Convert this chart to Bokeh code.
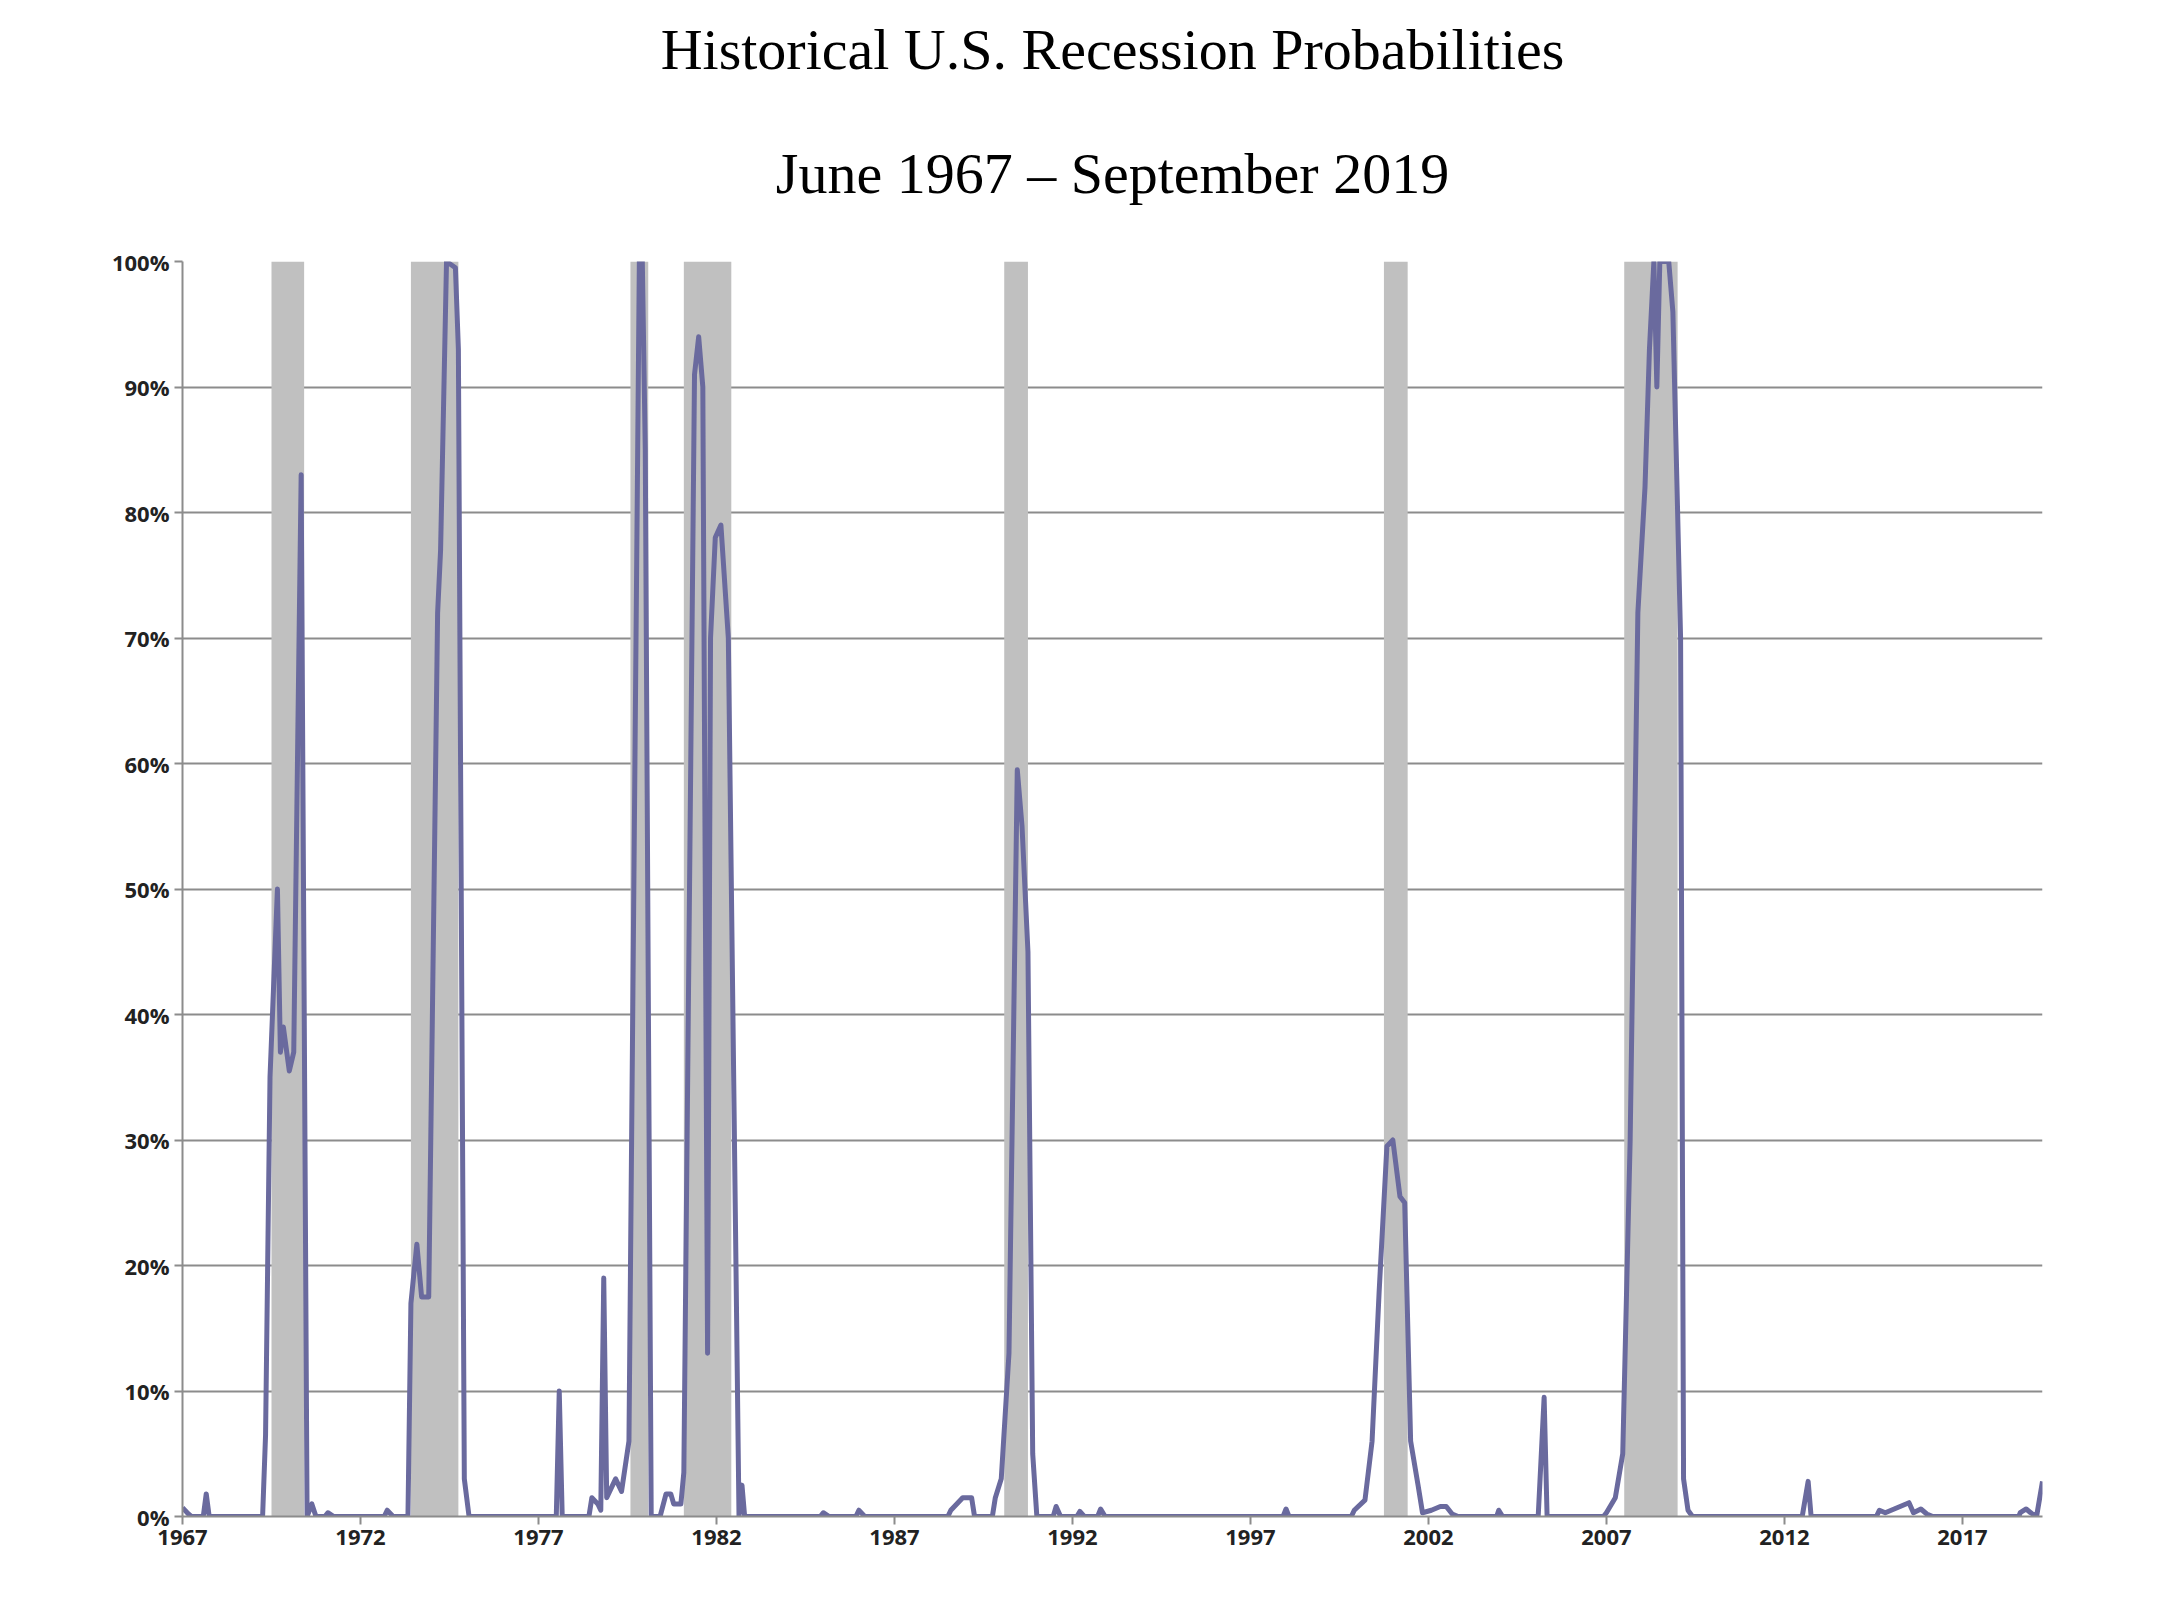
from bokeh.embed import file_html
from bokeh.resources import INLINE
from bokeh.models import Range1d, FixedTicker, Title, NumeralTickFormatter
from bokeh.plotting import figure

# months since June 1967
recession_start = [30, 77, 151, 169, 277, 405, 486]
recession_end = [41, 93, 157, 185, 285, 413, 504]

month = [0, 2, 3, 7, 8, 9,
         27, 28, 29.5, 32, 33, 34, 36, 37.5, 40, 42, 43.6, 45, 48, 49, 51,
         68, 69, 71, 76, 77, 79, 80.6, 83, 86, 87, 89, 92, 93, 95, 96.6,
         125, 126, 127, 128,
         137, 138, 140, 141, 142, 143, 146, 148, 150.5, 154, 155, 156, 158, 161, 163, 164.6, 165.6, 168, 169,
         172.6, 174, 175.4, 177, 178, 179.6, 181.5, 184, 187.6, 188.6, 189.5,
         215, 216, 218, 227, 228, 230,
         258, 259, 263, 266, 267, 273, 274, 276, 278.6, 281.4, 283, 285, 286.6, 288, 293.5, 294.5, 296,
         301.5, 302.5, 304, 308.5, 309.5, 311,
         371, 372, 373,
         394, 395, 398.6, 401, 403.4, 406, 408, 410.4, 412, 414, 416.5, 418, 421, 424, 426, 428, 430,
         443, 443.7, 445, 457, 459, 460,
         479, 480, 483, 485.5, 488, 490.6, 493, 494.5, 496, 497, 498, 501, 502.4, 505, 506, 507.5, 509,
         546, 548, 549,
         571, 572, 574, 576, 579, 582, 583.5, 586, 588, 590,
         619, 619.5, 621.5, 623, 625, 627]
prob = [0.7, 0.2, 0, 0, 1.8, 0,
        0, 6.5, 35, 50, 37, 39, 35.5, 37, 83, 0, 1, 0, 0, 0.3, 0,
        0, 0.5, 0, 0, 17, 21.7, 17.5, 17.5, 72, 77, 100, 99.5, 93, 3, 0,
        0, 0, 10, 0,
        0, 1.5, 1, 0.5, 19, 1.5, 3, 2, 6, 100, 100, 85, 0, 0, 1.8, 1.8, 1, 1, 3.5,
        91, 94, 90, 13, 70, 78, 79, 70, 0, 2.5, 0,
        0, 0.3, 0, 0, 0.5, 0,
        0, 0.5, 1.5, 1.5, 0, 0, 1.5, 3, 13, 59.5, 55, 45, 5, 0, 0, 0.8, 0,
        0, 0.4, 0, 0, 0.6, 0,
        0, 0.6, 0,
        0, 0.5, 1.3, 6, 18, 29.5, 30, 25.5, 25, 6, 2.5, 0.3, 0.5, 0.8, 0.8, 0.2, 0,
        0, 0.5, 0, 0, 9.5, 0,
        0, 0.3, 1.5, 5, 30, 72, 82, 93, 100, 90, 100, 100, 96, 70, 3, 0.5, 0,
        0, 2.8, 0,
        0, 0.5, 0.3, 0.5, 0.8, 1.1, 0.3, 0.6, 0.2, 0,
        0, 0.3, 0.6, 0.3, 0, 2.8]

year_ticks = list(range(0, 601, 60))
year_labels = [str(1967 + 5 * i) for i in range(len(year_ticks))]

p = figure(width=2160, height=1580, frame_width=1860, frame_height=1255,
           output_backend="svg", toolbar_location=None,
           x_range=Range1d(0, 627), y_range=Range1d(0, 100))
p.min_border_left = 182
p.min_border_bottom = 40
p.outline_line_color = None

title_style = dict(align="center", text_font="Liberation Serif", text_font_size="58px",
                   text_font_style="normal", text_color="black", offset=-45)
p.add_layout(Title(text="June 1967 \u2013 September 2019", standoff=112, **title_style), "above")
p.add_layout(Title(text="Historical U.S. Recession Probabilities", standoff=2, **title_style), "above")
p.add_layout(Title(text="\u00a0", text_font_size="4px", standoff=6), "above")

p.quad(left=recession_start, right=recession_end, bottom=0, top=100,
       fill_color="#c0c0c0", line_color=None)
p.line(month, prob, line_color="#6a6a9e", line_width=5, line_join="round")

p.xgrid.visible = False
p.ygrid.grid_line_color = "#8c8c8c"
p.ygrid.grid_line_width = 2
p.ygrid.level = "underlay"

p.xaxis.ticker = FixedTicker(ticks=year_ticks)
p.xaxis.major_label_overrides = {t: l for t, l in zip(year_ticks, year_labels)}
p.yaxis.ticker = FixedTicker(ticks=list(range(0, 101, 10)))
p.yaxis.formatter = NumeralTickFormatter(format="0")
p.yaxis.major_label_overrides = {v: f"{v}%" for v in range(0, 101, 10)}
for ax in (p.xaxis, p.yaxis):
    ax.axis_line_color = "#8c8c8c"
    ax.axis_line_width = 2
    ax.major_tick_line_color = "#8c8c8c"
    ax.major_tick_line_width = 2
    ax.major_tick_out = 8
    ax.major_tick_in = 0
    ax.minor_tick_line_color = None
    ax.major_label_text_font = "Open Sans"
    ax.major_label_text_font_style = "bold"
    ax.major_label_text_font_size = "22px"
    ax.major_label_text_color = "#222222"

open("out.html", "w").write(file_html(p, INLINE))
